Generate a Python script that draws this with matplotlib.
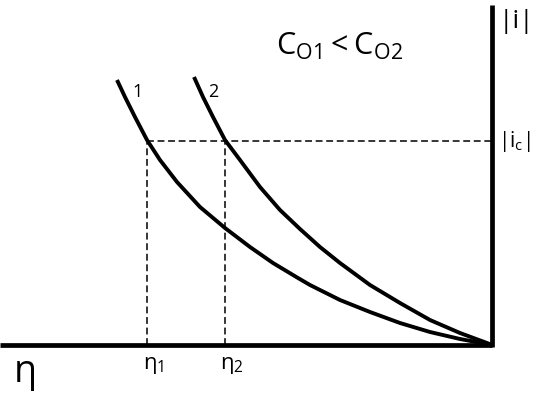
import matplotlib
matplotlib.use("Agg")
import matplotlib.pyplot as plt

plt.rcParams['font.family'] = ['Open Sans', 'DejaVu Sans']
plt.rcParams['mathtext.fontset'] = 'custom'
plt.rcParams['mathtext.rm'] = 'Open Sans'
plt.rcParams['mathtext.it'] = 'Open Sans'

# curve 1 (lower concentration), overpotential vs |i|
eta1 = [375, 367, 357, 345, 332, 315, 292, 267, 242, 219, 194, 182, 152, 122, 92, 62, 32, 5, 0]
i1 = [265, 248, 228, 205, 185, 163, 138, 117, 98, 82, 67, 60, 45, 33, 22, 13, 6, 1, 0]

# curve 2 (higher concentration)
eta2 = [298, 289, 279, 267, 252, 232, 212, 192, 172, 152, 122, 92, 62, 32, 5, 0]
i2 = [268, 248, 228, 205, 185, 158, 135, 116, 98, 82, 60, 42, 25, 12, 2, 0]

# constant current level and the overpotentials it gives
i_c = 204
eta_1 = 345
eta_2 = 267

fig = plt.figure(figsize=(5.33, 3.95), dpi=100)
ax = fig.add_axes([0, 0, 1, 1])
ax.set_xlim(492, -41)
ax.set_ylim(-50, 345)
ax.axis('off')

# axes
ax.plot([492, 0], [0, 0], color='black', lw=3.4, solid_capstyle='butt', zorder=3)
ax.plot([0, 0], [-1.5, 340], color='black', lw=3.4, solid_capstyle='butt', zorder=3)

# curves
ax.plot(eta1, i1, color='black', lw=2.8, solid_capstyle='butt', solid_joinstyle='round')
ax.plot(eta2, i2, color='black', lw=2.8, solid_capstyle='butt', solid_joinstyle='round')

# dashed guides
dash = dict(color='black', lw=1.1, dashes=(4.5, 2.4))
ax.plot([eta_1, 0], [i_c, i_c], **dash)
ax.plot([eta_1, eta_1], [0, i_c], **dash)
ax.plot([eta_2, eta_2], [0, i_c], **dash)

# labels
ax.text(152, 299, r'$\mathregular{C_{O1} < C_{O2}}$', fontsize=22, ha='center', va='center')
ax.text(-24, 323, '|i|', fontsize=19, ha='center', va='center')
ax.text(-22, i_c, r'$\mathregular{|i_c|}$', fontsize=15, ha='center', va='center')
ax.text(354, 253, '1', fontsize=13, ha='center', va='center')
ax.text(279, 253, '2', fontsize=13, ha='center', va='center')
ax.text(467, -27, 'η', fontsize=27, ha='center', va='center')
ax.text(eta_1 - 7, -20, r'$\mathregular{η_1}$', fontsize=16, ha='center', va='center')
ax.text(eta_2 - 7, -20, r'$\mathregular{η_2}$', fontsize=16, ha='center', va='center')

fig.savefig('out.png', dpi=100)
